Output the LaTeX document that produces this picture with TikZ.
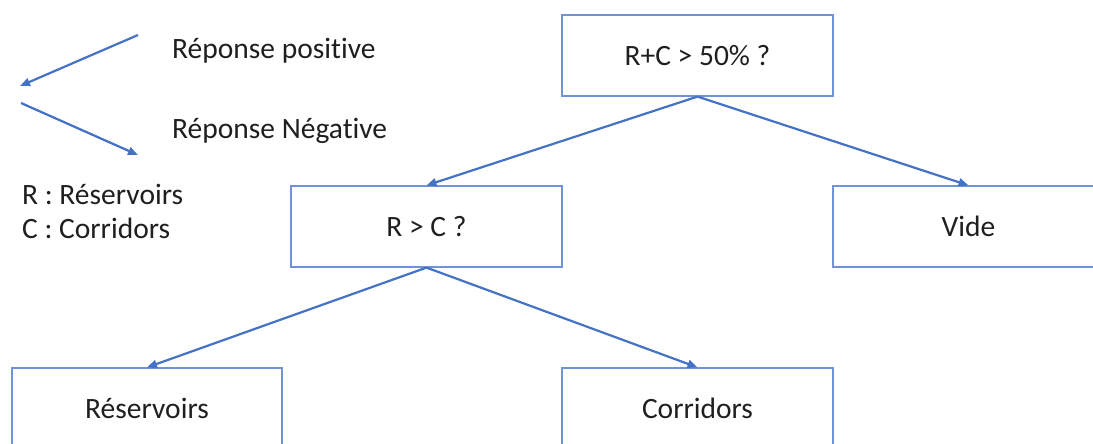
\documentclass[tikz,border=0pt]{standalone}
\usepackage{fontspec}
\setmainfont{Carlito}[Ligatures={NoCommon}]
\usetikzlibrary{arrows.meta}
\definecolor{lineblue}{HTML}{4472C4}
\definecolor{boxblue}{HTML}{6F93D6}
\definecolor{txt}{HTML}{1F1F1F}
\tikzset{
  box/.style={draw=boxblue, line width=1.2pt, minimum width=271pt, minimum height=81pt, inner sep=0pt, text=txt, font=\fontsize{29.5}{35}\selectfont},
  conn/.style={draw=lineblue, line width=2.2pt, -{Triangle[length=10pt,width=8pt]}},
  lbl/.style={text=txt, inner sep=0pt, font=\fontsize{29.5}{35}\selectfont}
}
\begin{document}
\begin{tikzpicture}[x=1pt,y=-1pt]
\useasboundingbox (0,0) rectangle (1093,444);
\clip (0,0) rectangle (1093,444);
\node[box] (top) at (697.5,55.5) {R+C > 50\% ?};
\node[box] (rc) at (426.5,226.5) {R > C ?};
\node[box] (vide) at (968.5,226.5) {Vide};
\node[box, minimum width=270pt] (res) at (147,408.5) {Réservoirs};
\node[box] (cor) at (697.5,408.5) {Corridors};
\draw[conn] (top.south) -- (rc.north);
\draw[conn] (top.south) -- (vide.north);
\draw[conn] (rc.south) -- (res.north);
\draw[conn] (rc.south) -- (cor.north);
\coordinate (p1) at (138,35);
\coordinate (p2) at (20,86);
\coordinate (n1) at (21,103);
\coordinate (n2) at (138,155);
\draw[conn] (p1) -- (p2);
\draw[conn] (n1) -- (n2);
\node[lbl, anchor=base west] (lp) at (172,59) {Réponse positive};
\node[lbl, anchor=base west] (ln) at (172,138) {Réponse Négative};
\node[lbl, anchor=base west] (lr) at (22,204) {R : Réservoirs};
\node[lbl, anchor=base west] (lc) at (22,238) {C : Corridors};
\end{tikzpicture}
\end{document}
